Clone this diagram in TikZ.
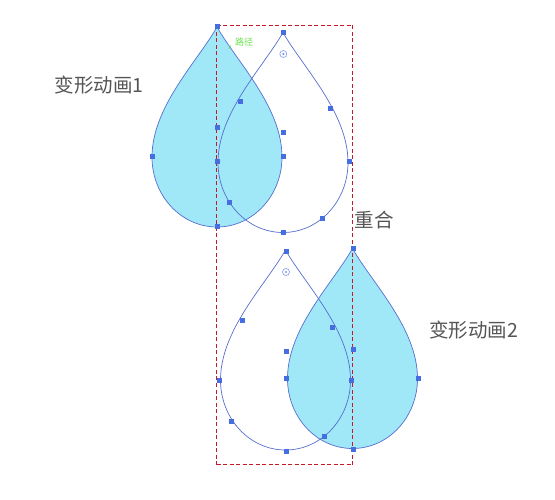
\documentclass[tikz,border=0pt]{standalone}
\usepackage{fontspec}
\newfontfamily\cjk{Noto Sans CJK SC}
\definecolor{txtgray}{RGB}{85,85,85}
\definecolor{mblue}{RGB}{70,110,225}
\definecolor{lblue}{RGB}{85,110,205}
\definecolor{dfill}{RGB}{160,232,248}
\definecolor{dred}{RGB}{195,25,40}
\definecolor{lgreen}{RGB}{110,225,80}
\tikzset{
  droppath/.pic={\path[pic actions] (0,-130) .. controls (-20,-95) and (-65,-50) .. (-65,0)
     .. controls (-65,38.6) and (-36,70) .. (0,70)
     .. controls (36,70) and (65,38.6) .. (65,0)
     .. controls (65,-50) and (20,-95) .. (0,-130) -- cycle;},
  dropfill/.style={fill=dfill,draw=none},
  dropline/.style={draw=lblue,line width=0.7pt},
  sq/.style={fill=mblue,draw=none,minimum size=5pt,inner sep=0pt,rectangle},
  lbl/.style={font=\cjk\fontsize{19.5}{19.5}\selectfont,text=txtgray,inner sep=0pt},
  tgt/.style={circle,draw=mblue!70,line width=0.6pt,minimum size=7pt,inner sep=0pt},
  frame/.style={draw=dred,line width=1pt,dash pattern=on 4pt off 2.5pt},
}
\begin{document}
\begin{tikzpicture}[x=1pt,y=-1pt]
\useasboundingbox (0,0) rectangle (555,500);
% fills
\pic[dropfill] at (217,157) {droppath};
\pic[dropfill] at (352.5,378.5) {droppath};
% outlines
\pic[dropline] at (217,157) {droppath};
\pic[dropline] at (283,162.5) {droppath};
\pic[dropline] at (285.5,380) {droppath};
\pic[dropline] at (352.5,378.5) {droppath};
% dashed frame
\coordinate (f1) at (216.5,25.5);
\coordinate (f2) at (352.5,25.5);
\coordinate (f3) at (352.5,464.5);
\coordinate (f4) at (216.5,464.5);
\path[frame] (f1) -- (f2);
\path[frame] (f2) -- (f3);
\path[frame] (f4) -- (f3);
\path[frame] (f1) -- (f4);
% markers
\foreach \p/\n in {{(217,27)}/a1,{(283,33)}/a2,{(240,102)}/a3,{(330,109)}/a4,{(217,128)}/a5,{(283,133)}/a6,
  {(152,157)}/a7,{(217,162)}/a8,{(283,157)}/a9,{(349,162)}/a10,{(229,203)}/a11,{(322,219)}/a12,
  {(217,227)}/a13,{(283,233)}/a14,
  {(286,252)}/b1,{(353,249)}/b2,{(242,320)}/b3,{(332,327)}/b4,{(286,351)}/b5,{(353,349)}/b6,
  {(219,380)}/b7,{(286,378)}/b8,{(351,380)}/b9,{(418,378)}/b10,{(231,421)}/b11,{(324,436)}/b12,
  {(286,451)}/b13,{(353,449)}/b14}
  \node[sq] (\n) at \p {};
\node[tgt] (t1) at (283.3,54) {};
\fill[mblue!70] (t1) circle (1.2pt);
\node[tgt] (t2) at (286,272) {};
\fill[mblue!70] (t2) circle (1.2pt);
% labels
\node[lbl] (l1) at (99,85) {变形动画1};
\node[lbl] (l2) at (374,220.5) {重合};
\node[lbl] (l3) at (473.5,330) {变形动画2};
\node[font=\cjk\fontsize{9}{9}\selectfont,text=lgreen,inner sep=0pt] (g) at (244,42) {路径};
\coordinate (g1) at (228.5,49);
\coordinate (g2) at (231,45.5);
\draw[lgreen,line width=0.6pt] (g1) -- (g2);
\end{tikzpicture}
\end{document}
